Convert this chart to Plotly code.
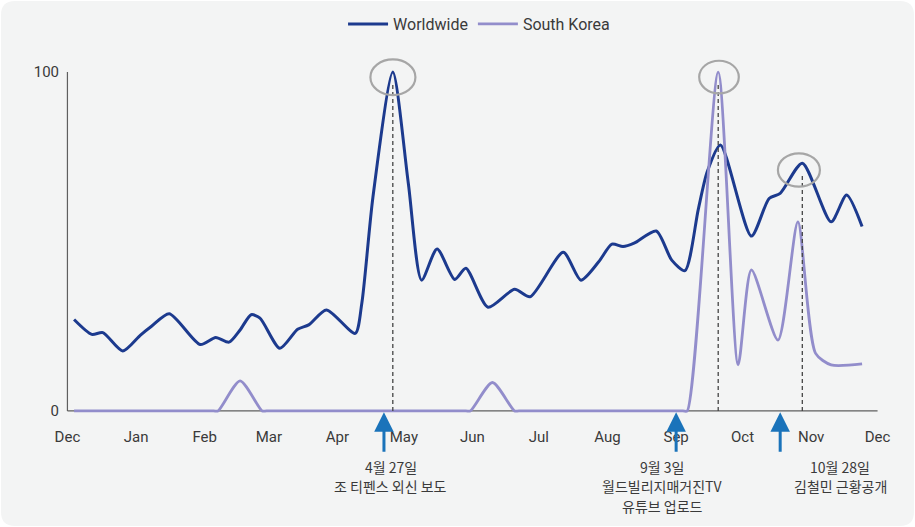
import plotly.graph_objects as go

# ---------------- data ----------------
world_dates = ['2019-12-04', '2019-12-12', '2019-12-17', '2019-12-26', '2020-01-03', '2020-01-08',
               '2020-01-16', '2020-01-30', '2020-02-06', '2020-02-12', '2020-02-17', '2020-02-22',
               '2020-02-26', '2020-03-06', '2020-03-14', '2020-03-19', '2020-03-27', '2020-04-09',
               '2020-04-12', '2020-04-17', '2020-04-26', '2020-05-03', '2020-05-09', '2020-05-16',
               '2020-05-24', '2020-05-29', '2020-06-08', '2020-06-20', '2020-06-27', '2020-07-12',
               '2020-07-20', '2020-07-28', '2020-08-03', '2020-08-08', '2020-08-13', '2020-08-23',
               '2020-08-30', '2020-09-05', '2020-09-11', '2020-09-15', '2020-09-21', '2020-10-05',
               '2020-10-13', '2020-10-18', '2020-10-28', '2020-11-10', '2020-11-17', '2020-11-24']
world_values = [27.0, 22.6, 23.1, 17.7, 22.4, 25.0,
                28.7, 19.6, 21.7, 20.3, 23.9, 28.4,
                27.4, 18.5, 24.1, 25.4, 29.8, 22.9,
                31.8, 63.0, 100.0, 67.2, 38.6, 47.8,
                38.8, 42.1, 30.6, 35.9, 33.7, 46.8,
                38.6, 44.0, 49.2, 48.5, 49.5, 53.1,
                44.5, 41.4, 59.5, 70.5, 78.5, 51.6,
                62.7, 64.2, 73.1, 55.8, 63.7, 54.4]

korea_dates = ['2019-12-04', '2020-02-05', '2020-02-07', '2020-02-17', '2020-02-27', '2020-02-29',
               '2020-05-29', '2020-05-31', '2020-06-10', '2020-06-20', '2020-06-22', '2020-09-04',
               '2020-09-06', '2020-09-20', '2020-09-29', '2020-10-05', '2020-10-17', '2020-10-26',
               '2020-11-03', '2020-11-10', '2020-11-24']
korea_values = [0, 0, 0, 8.9, 0, 0,
                0, 0, 8.4, 0, 0, 0,
                0, 100, 13.6, 41.6, 20.9, 55.8,
                17.0, 13.6, 13.9]

series_names = ['Worldwide', 'South Korea']
y_tick_values = [0, 100]
x_start, x_end = '2019-12-01', '2020-12-01'

# highlighted peaks: (series, date)
highlights = [('Worldwide', '2020-04-26'), ('South Korea', '2020-09-20'), ('Worldwide', '2020-10-28')]
# event arrows (positions as drawn) with their labels
event_arrow_dates = ['2020-04-22', '2020-09-01', '2020-10-18']
event_labels = [['4월 27일', '조 티펜스 외신 보도'],
                ['9월 3일', '월드빌리지매거진TV', '유튜브 업로드'],
                ['10월 28일', '김철민 근황공개']]

# ---------------- styles ----------------
W, H = 915, 527
ML, MR, MT, MB = 63, 33, 50, 114
PW, PH = W - ML - MR, H - MT - MB
WORLD_C = '#1c3a8e'
KOREA_C = '#928dcb'
AXIS_C = '#5f5f5f'
TEXT_C = '#3a3a3a'
ARROW_C = '#1a73ba'
LATIN = 'Roboto, Liberation Sans, Arial, sans-serif'
KR = 'Noto Sans CJK KR, sans-serif'

fig = go.Figure()
fig.add_trace(go.Scatter(x=world_dates, y=world_values, name=series_names[0], mode='lines',
                         line=dict(color=WORLD_C, width=3, shape='spline', smoothing=0.7)))
fig.add_trace(go.Scatter(x=korea_dates, y=korea_values, name=series_names[1], mode='lines',
                         line=dict(color=KOREA_C, width=2.8, shape='spline', smoothing=0.7)))

data_by_name = {series_names[0]: dict(zip(world_dates, world_values)),
                series_names[1]: dict(zip(korea_dates, korea_values))}

shapes = []
# rounded background panel (paper coordinates computed from pixels)
def px2paper(px, py):
    return (px - ML) / PW, (MT + PH - py) / PH

def P(px, py):
    a, b = px2paper(px, py)
    return f'{a:.5f},{b:.5f}'

r = 14
x0p, y0p, x1p, y1p = 1, 1, W - 1, H - 1
path = (f'M{P(x0p + r, y0p)} L{P(x1p - r, y0p)} Q{P(x1p, y0p)} {P(x1p, y0p + r)} '
        f'L{P(x1p, y1p - r)} Q{P(x1p, y1p)} {P(x1p - r, y1p)} L{P(x0p + r, y1p)} '
        f'Q{P(x0p, y1p)} {P(x0p, y1p - r)} L{P(x0p, y0p + r)} Q{P(x0p, y0p)} {P(x0p + r, y0p)} Z')
shapes.append(dict(type='path', xref='paper', yref='paper', path=path,
                   fillcolor='#f3f4f4', line=dict(width=0), layer='below'))

# axis lines
shapes.append(dict(type='line', xref='x', yref='y', x0=x_start, x1=x_start, y0=0, y1=max(y_tick_values),
                   line=dict(color=AXIS_C, width=1.2), layer='below'))
shapes.append(dict(type='line', xref='x', yref='y', x0=x_start, x1=x_end, y0=0, y1=0,
                   line=dict(color=AXIS_C, width=1.2), layer='below'))

# highlighted peaks: dashed drop lines + ellipses
ellipse_px = [(-22.4, 22.6, -23, 12.6), (-19, 20.6, -21.3, 11.3), (-24.4, 17.6, -23.5, 9.9)]
for (name, d), (ex0, ex1, ey0, ey1) in zip(highlights, ellipse_px):
    v = data_by_name[name][d]
    shapes.append(dict(type='line', xref='x', yref='y', x0=d, x1=d, y0=0, y1=v - 3,
                       line=dict(color='#444444', width=1.3, dash='4px,3px'), layer='above'))
    shapes.append(dict(type='circle', xref='x', yref='y', xsizemode='pixel', ysizemode='pixel',
                       xanchor=d, yanchor=v, x0=ex0, x1=ex1, y0=ey0, y1=ey1,
                       line=dict(color='#a6a6a6', width=2.2), fillcolor='rgba(0,0,0,0)', layer='above'))

annotations = []
label_xshift = [7, -14, 60]
for d, lines, xs in zip(event_arrow_dates, event_labels, label_xshift):
    annotations.append(dict(x=d, y=0, xref='x', yref='y', text='', showarrow=True,
                            arrowhead=2, arrowsize=1.3, arrowwidth=3, arrowcolor=ARROW_C,
                            ax=0, ay=41, axref='pixel', ayref='pixel', yshift=-1.3))
    for i, t in enumerate(lines):
        annotations.append(dict(x=d, y=0, xref='x', yref='y', text=t, showarrow=False,
                                xshift=xs, yshift=-(56 + 19.3 * i), yanchor='middle',
                                font=dict(family=KR, size=14, color=TEXT_C)))

fig.update_layout(
    width=W, height=H,
    margin=dict(l=ML, r=MR, t=MT, b=MB, pad=0, autoexpand=False),
    paper_bgcolor='white', plot_bgcolor='rgba(0,0,0,0)',
    showlegend=True,
    legend=dict(orientation='h', x=0.508, xanchor='center', y=(MT + PH - 24) / PH, yanchor='middle',
                font=dict(family=LATIN, size=16, color=TEXT_C), bgcolor='rgba(0,0,0,0)',
                itemwidth=40, tracegroupgap=0),
    xaxis=dict(type='date', range=['2019-11-29', '2020-12-03'], tick0=x_start, dtick='M1',
               tickformat='%b', showgrid=False, zeroline=False, showline=False, ticks='',
               ticklabelstandoff=13, tickfont=dict(family=LATIN, size=15, color=TEXT_C)),
    yaxis=dict(range=[-0.6, 106.5], tickvals=y_tick_values, showgrid=False, zeroline=False,
               showline=False, ticks='', ticklabelstandoff=3,
               tickfont=dict(family=LATIN, size=15, color=TEXT_C)),
    shapes=shapes, annotations=annotations,
)

fig.write_html('out.html', post_script="document.body.style.margin='0px';",
               config={'displayModeBar': False})
